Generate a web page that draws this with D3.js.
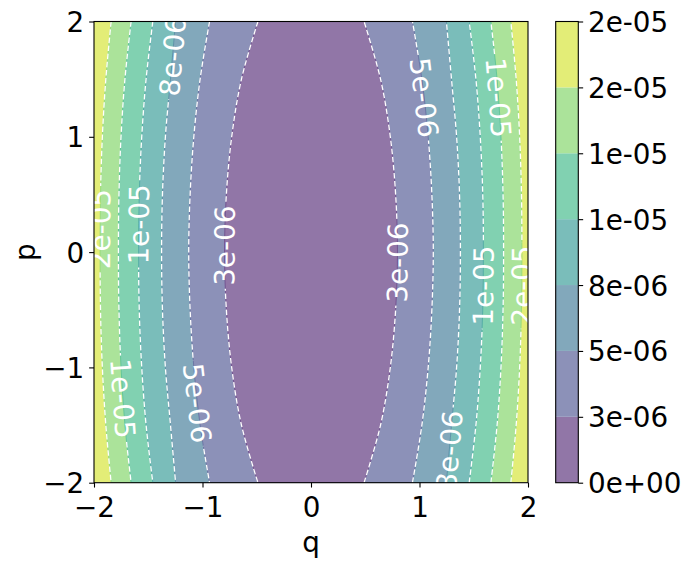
<!DOCTYPE html>
<html><head><meta charset="utf-8">
<script src="https://cdn.jsdelivr.net/npm/d3@7"></script>
<style>body{margin:0;background:#fff} text{font-family:'DejaVu Sans',sans-serif}</style>
</head><body><script>
// ---- data ----
const levels = [2.5e-6, 5e-6, 7.5e-6, 1e-5, 1.25e-5, 1.5e-5];
const levelLabels = ['3e-06','5e-06','8e-06','1e-05','1e-05','2e-05'];
const pSamples = [-2, -1.5, -1, -0.5, 0, 0.5, 1, 1.5, 2];
// |q| where each contour level crosses the sampled p rows (symmetric in q)
const q_2_5e6  = [0.489, 0.641, 0.731, 0.780, 0.797, 0.780, 0.731, 0.641, 0.489];
const q_5e6    = [0.935, 1.022, 1.080, 1.114, 1.127, 1.114, 1.080, 1.022, 0.935];
const q_7_5e6  = [1.248, 1.295, 1.342, 1.369, 1.377, 1.369, 1.342, 1.295, 1.248];
const q_1e5    = [1.458, 1.520, 1.560, 1.583, 1.589, 1.583, 1.560, 1.520, 1.458];
const q_1_25e5 = [1.658, 1.715, 1.751, 1.770, 1.775, 1.770, 1.751, 1.715, 1.658];
const q_1_5e5  = [1.842, 1.891, 1.923, 1.940, 1.944, 1.940, 1.923, 1.891, 1.842];
const cbLevels = [0, 2.5e-6, 5e-6, 7.5e-6, 1e-5, 1.25e-5, 1.5e-5, 1.75e-5];
const cbTickLabels = ['0e+00','3e-06','5e-06','8e-06','1e-05','1e-05','2e-05','2e-05'];
const xTicks = [-2, -1, 0, 1, 2];
const yTicks = [-2, -1, 0, 1, 2];
// inline contour labels: level index, side (-1 left, +1 right), p position
const labelLevel = [2, 1, 4, 5, 3, 0, 0, 3, 5, 4, 1, 2];
const labelSide  = [-1, 1, 1, -1, -1, -1, 1, 1, 1, -1, -1, 1];
const labelP     = [1.70, 1.34, 1.34, 0.20, 0.24, 0.056, -0.09, -0.29, -0.29, -1.27, -1.31, -1.72];

// ---- drawing ----
const crossings = [q_2_5e6, q_5e6, q_7_5e6, q_1e5, q_1_25e5, q_1_5e5];
const W = 691, H = 564, FS = 27.8;
const P = {l: 94, r: 528, t: 21.5, b: 482.7};
const svg = d3.select('body').append('svg').attr('width', W).attr('height', H);
const defs = svg.append('defs');
defs.append('clipPath').attr('id', 'clip').append('rect')
  .attr('x', P.l).attr('y', P.t).attr('width', P.r - P.l).attr('height', P.b - P.t);

const x = d3.scaleLinear().domain([-2, 2]).range([P.l, P.r]);
const y = d3.scaleLinear().domain([-2, 2]).range([P.b, P.t]);
const nBands = cbLevels.length - 1;
const bandBase = d3.range(nBands).map(i => d3.interpolateViridis((i + 0.5) / nBands));
const bandColor = bandBase.map(c => d3.interpolateRgb('#ffffff', c)(0.6));
const seamColor = bandBase.map(c => d3.interpolateRgb('#ffffff', c)(0.8));

const line = d3.line().curve(d3.curveCatmullRom.alpha(0.5));
function sidePts(k, side) {
  const pts = pSamples.map((p, i) => [x(side * crossings[k][i]), y(p)]);
  // left side: top to bottom; right side: bottom to top
  return side < 0 ? pts.slice().reverse() : pts;
}

const plotG = svg.append('g').attr('clip-path', 'url(#clip)');
plotG.append('rect').attr('x', P.l).attr('y', P.t).attr('width', P.r - P.l).attr('height', P.b - P.t)
  .attr('fill', bandColor[nBands - 1]);
for (let k = levels.length - 1; k >= 0; k--) {
  const d = line(sidePts(k, -1)) + line(sidePts(k, 1)).replace(/^M/, 'L') + 'Z';
  plotG.append('path').attr('d', d).attr('fill', bandColor[k])
    .attr('stroke', seamColor[k]).attr('stroke-width', 0.8);
}

// contour lines (masked under labels)
const lineG = plotG.append('g').attr('mask', 'url(#lblmask)');
const sidePaths = {};
levels.forEach((lv, k) => {
  [-1, 1].forEach(side => {
    const node = lineG.append('path').attr('d', line(sidePts(k, side)))
      .attr('fill', 'none').attr('stroke', '#fff').attr('stroke-width', 1.3)
      .attr('stroke-dasharray', '5.5,2.6').node();
    sidePaths[k + '_' + side] = node;
  });
});

function pointAtY(node, ty) {
  const L = node.getTotalLength();
  const a0 = node.getPointAtLength(0).y, a1 = node.getPointAtLength(L).y;
  let lo = 0, hi = L;
  for (let i = 0; i < 40; i++) {
    const m = (lo + hi) / 2, py = node.getPointAtLength(m).y;
    if ((py < ty) === (a0 < a1)) lo = m; else hi = m;
  }
  const s = (lo + hi) / 2;
  const pt = node.getPointAtLength(s);
  const pA = node.getPointAtLength(Math.max(0, s - 3)), pB = node.getPointAtLength(Math.min(L, s + 3));
  let ang = Math.atan2(pB.y - pA.y, pB.x - pA.x) * 180 / Math.PI;
  if (ang >= 90) ang -= 180;
  if (ang < -90) ang += 180;
  return {x: pt.x, y: pt.y, ang};
}

const mask = defs.append('mask').attr('id', 'lblmask').attr('maskUnits', 'userSpaceOnUse')
  .attr('x', 0).attr('y', 0).attr('width', W).attr('height', H);
mask.append('rect').attr('x', 0).attr('y', 0).attr('width', W).attr('height', H).attr('fill', '#fff');

const lblG = plotG.append('g');
labelLevel.forEach((k, i) => {
  const pt = pointAtY(sidePaths[k + '_' + labelSide[i]], y(labelP[i]));
  const t = lblG.append('text')
    .attr('transform', `translate(${pt.x},${pt.y}) rotate(${pt.ang})`)
    .attr('text-anchor', 'middle').attr('dy', '0.36em')
    .attr('font-size', FS).attr('fill', '#fff').text(levelLabels[k]);
  const len = t.node().getComputedTextLength();
  mask.append('rect').attr('transform', `translate(${pt.x},${pt.y}) rotate(${pt.ang})`)
    .attr('x', -len / 2 - 3).attr('y', -5).attr('width', len + 6).attr('height', 10).attr('fill', '#000');
});

// frame
svg.append('rect').attr('x', P.l).attr('y', P.t).attr('width', P.r - P.l).attr('height', P.b - P.t)
  .attr('fill', 'none').attr('stroke', '#000').attr('stroke-width', 1.1);

const fmt = d => d < 0 ? '\u2212' + Math.abs(d) : String(d);
const TL = 4.86;
const xAx = svg.append('g').attr('transform', `translate(0,${P.b})`)
  .call(d3.axisBottom(x).tickValues(xTicks).tickFormat(fmt).tickSize(TL).tickPadding(TL));
xAx.selectAll('text').attr('dy', null).attr('y', P.b * 0 + 34.8).attr('font-size', FS).attr('fill', '#000');
const yAx = svg.append('g').attr('transform', `translate(${P.l},0)`)
  .call(d3.axisLeft(y).tickValues(yTicks).tickFormat(fmt).tickSize(TL).tickPadding(TL));
yAx.selectAll('text').attr('dy', '0.36em').attr('font-size', FS).attr('fill', '#000');
[xAx, yAx].forEach(a => {
  a.select('.domain').remove();
  a.selectAll('line').attr('stroke', '#000').attr('stroke-width', 1.1);
  a.attr('font-family', null);
});

svg.append('text').attr('x', (P.l + P.r) / 2).attr('y', 552).attr('text-anchor', 'middle')
  .attr('font-size', FS).text('q');
svg.append('text').attr('transform', `translate(35,${(P.t + P.b) / 2}) rotate(-90)`)
  .attr('text-anchor', 'middle').attr('font-size', FS).text('p');

// colorbar
const CB = {l: 555.7, r: 578.3};
const yc = d3.scaleLinear().domain([cbLevels[0], cbLevels[cbLevels.length - 1]]).range([P.b, P.t]);
const cbG = svg.append('g');
d3.range(nBands).forEach(i => {
  cbG.append('rect').attr('x', CB.l).attr('width', CB.r - CB.l)
    .attr('y', yc(cbLevels[i + 1])).attr('height', yc(cbLevels[i]) - yc(cbLevels[i + 1]))
    .attr('fill', bandColor[i]);
});
cbG.append('rect').attr('x', CB.l).attr('y', P.t).attr('width', CB.r - CB.l).attr('height', P.b - P.t)
  .attr('fill', 'none').attr('stroke', '#000').attr('stroke-width', 1.1);
const cAx = svg.append('g').attr('transform', `translate(${CB.r},0)`)
  .call(d3.axisRight(yc).tickValues(cbLevels).tickFormat((d, i) => cbTickLabels[i]).tickSize(TL).tickPadding(TL));
cAx.select('.domain').remove();
cAx.attr('font-family', null);
cAx.selectAll('line').attr('stroke', '#000').attr('stroke-width', 1.1);
cAx.selectAll('text').attr('dy', '0.36em').attr('font-size', FS).attr('fill', '#000');
</script></body></html>
